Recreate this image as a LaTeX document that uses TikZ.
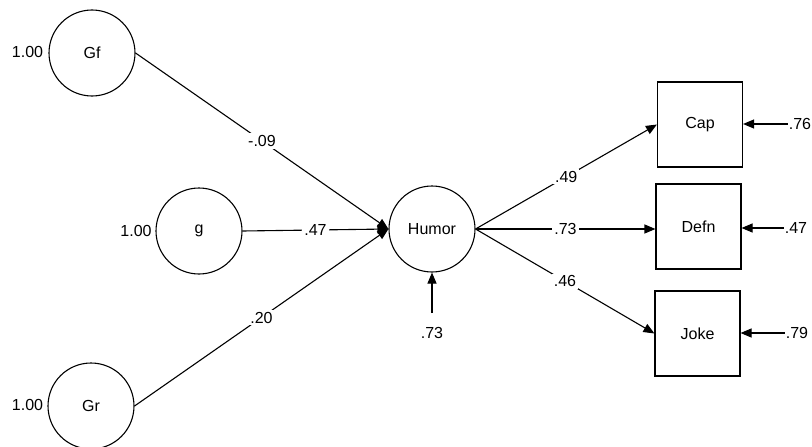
\documentclass[tikz,border=0pt]{standalone}
\usepackage{fontspec}
\setmainfont{Liberation Sans}
\usetikzlibrary{arrows.meta}
\begin{document}
\begin{tikzpicture}[x=1pt,y=-1pt,
  every node/.style={font=\fontsize{16}{19}\selectfont},
  lat/.style={circle,draw,line width=1.1pt,minimum size=86pt,inner sep=0pt},
  obs/.style={rectangle,draw,line width=1.1pt,minimum size=85pt,inner sep=0pt},
  arr/.style={line width=1.1pt,-{Triangle[length=11pt,width=9pt]}},
  coef/.style={midway,fill=white,inner sep=2pt}]
\useasboundingbox (0,0) rectangle (812,447);
% latent variables
\node[lat] (Gf) at (92,53) {Gf};
\node[lat] (g) at (199,231) {g};
\node[lat] (Gr) at (91,406) {Gr};
\node[lat] (Humor) at (432,229) {Humor};
% variances
\node (vGf) at (27.5,52) {1.00};
\node (vg) at (136,231) {1.00};
\node (vGr) at (27.5,405) {1.00};
% observed
\node[obs] (Cap) at (700,124.5) {Cap};
\node[obs] (Defn) at (698.5,226.5) {Defn};
\node[obs] (Joke) at (697.5,333.5) {Joke};
% residuals
\node[inner sep=1pt] (eCap) at (800,124) {.76};
\node[inner sep=1pt] (eDefn) at (796,228) {.47};
\node[inner sep=1pt] (eJoke) at (797,333) {.79};
\node[inner sep=1pt] (eHumor) at (432,333) {.73};
\coordinate (eHumorTop) at (432,313);
% paths
\draw[arr] (Gf.east) -- node[coef] {-.09} (Humor.west);
\draw[arr] (g.east) -- node[coef] {.47} (Humor.west);
\draw[arr] (Gr.east) -- node[coef] {.20} (Humor.west);
\draw[arr] (Humor.east) -- node[coef] {.49} (Cap.west);
\draw[arr] (Humor.east) -- node[coef] {.73} (Defn.west |- Humor.east);
\draw[arr] (Humor.east) -- node[coef] {.46} (Joke.west);
\draw[arr] (eCap.west) -- (Cap.east |- eCap.west);
\draw[arr] (eDefn.west) -- (Defn.east |- eDefn.west);
\draw[arr] (eJoke.west) -- (Joke.east |- eJoke.west);
\draw[arr] (eHumorTop) -- (Humor.south);
\end{tikzpicture}
\end{document}
